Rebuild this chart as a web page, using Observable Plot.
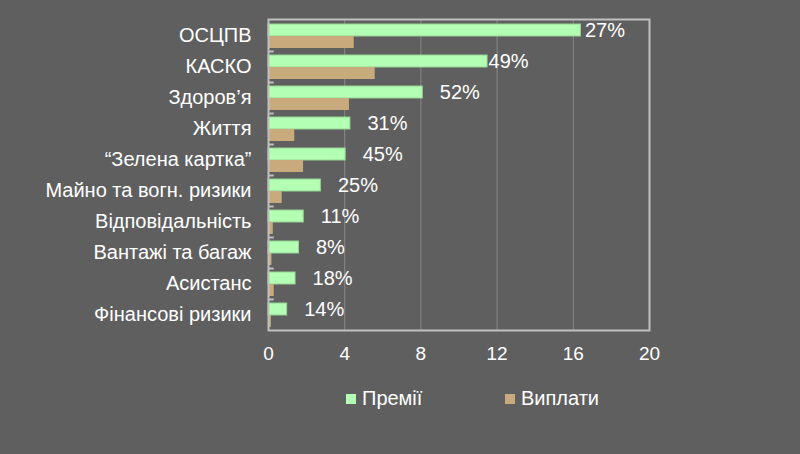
<!DOCTYPE html>
<html>
<head>
<meta charset="utf-8">
<script src="https://cdn.jsdelivr.net/npm/d3@7"></script>
<script src="https://cdn.jsdelivr.net/npm/@observablehq/plot@0.6"></script>
<style>
  html, body { margin: 0; padding: 0; background: #5f5f5f; }
  #wrap { width: 800px; height: 454px; position: relative; overflow: hidden; font-family: Arial, "Liberation Sans", sans-serif; }
  #legend { position: absolute; left: 0; top: 375px; width: 800px; height: 79px; color: #fff; font-size: 20px; }
  .item { position: absolute; top: 12px; display: flex; align-items: center; }
  .sw { width: 10px; height: 10px; margin-right: 6px; }
  g[aria-label="y-axis tick label"] { font-size: 20px; }
</style>
</head>
<body>
<div id="wrap">
  <div id="chart"></div>
  <div id="legend"></div>
</div>
<script>
const categories = ["ОСЦПВ", "КАСКО", "Здоров’я", "Життя", "“Зелена картка”", "Майно та вогн. ризики", "Відповідальність", "Вантажі та багаж", "Асистанс", "Фінансові ризики"];
const premiums = [16.4, 11.5, 8.1, 4.3, 4.05, 2.75, 1.85, 1.6, 1.42, 0.98];
const payments = [4.5, 5.6, 4.25, 1.38, 1.84, 0.72, 0.25, 0.18, 0.3, 0.15];
const shares = ["27%", "49%", "52%", "31%", "45%", "25%", "11%", "8%", "18%", "14%"];
const xTicks = [0, 4, 8, 12, 16, 20];
const seriesNames = ["Премії", "Виплати"];
const seriesColors = ["#b3ffb3", "#c8aa7d"];

const rows = categories.map((c, i) => ({ i, category: c, premium: premiums[i], payment: payments[i], share: shares[i] }));

const labelOpts = (filter, dx) => Plot.text(rows, {
  filter, x: "premium", y: "category", text: "share",
  textAnchor: "start", dx, dy: -5, fill: "#ffffff", fontSize: 20
});

const chart = Plot.plot({
  width: 800,
  height: 375,
  marginLeft: 268,
  marginRight: 151,
  marginTop: 19,
  marginBottom: 45,
  style: { background: "transparent", color: "#ffffff", fontFamily: "Arial, 'Liberation Sans', sans-serif", fontSize: "19px" },
  x: { domain: [0, 20], ticks: xTicks, tickSize: 0, tickPadding: 16, label: null },
  y: { domain: categories, padding: 0, tickSize: 0, tickPadding: 17, label: null },
  marks: [
    Plot.ruleX(xTicks.slice(1, -1), { stroke: "#888888", strokeWidth: 1 }),
    Plot.ruleY(categories.slice(1), { y: d => d, x1: 0, x2: 0.3, dy: -15.5, stroke: "#c0c0c0", strokeWidth: 2 }),
    Plot.barX(rows, { x: "premium", y: "category", fill: seriesColors[0], stroke: "#94d494", strokeWidth: 1, insetTop: 4, insetBottom: 15 }),
    Plot.barX(rows, { x: "payment", y: "category", fill: seriesColors[1], insetTop: 16, insetBottom: 3 }),
    labelOpts(d => d.i === 0, 4),
    labelOpts(d => d.i === 1, 1),
    labelOpts(d => d.i > 1, 17),
    Plot.frame({ stroke: "#c0c0c0", strokeWidth: 2 })
  ]
});
document.getElementById("chart").appendChild(chart);

const legend = document.getElementById("legend");
const lefts = [346, 505];
seriesNames.forEach((name, k) => {
  const it = document.createElement("div");
  it.className = "item";
  it.style.left = lefts[k] + "px";
  const sw = document.createElement("span");
  sw.className = "sw";
  sw.style.background = seriesColors[k];
  const tx = document.createElement("span");
  tx.textContent = name;
  it.appendChild(sw); it.appendChild(tx);
  legend.appendChild(it);
});
</script>
</body>
</html>
